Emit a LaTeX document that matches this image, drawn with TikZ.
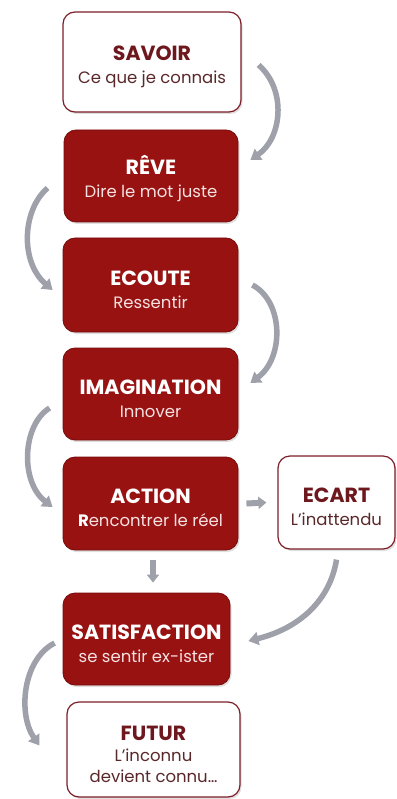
\documentclass[tikz,border=0pt]{standalone}
\usepackage{fontspec}
\setmainfont{Poppins}
\usetikzlibrary{arrows.meta,shadows}
\definecolor{boxred}{RGB}{152,18,18}
\definecolor{boxredline}{RGB}{120,12,12}
\definecolor{wline}{RGB}{125,30,40}
\definecolor{wtitle}{RGB}{110,24,30}
\definecolor{wsub}{RGB}{90,40,42}
\definecolor{rsub}{RGB}{245,225,225}
\definecolor{arrowgray}{RGB}{158,160,170}
\tikzset{
  basebox/.style={rectangle, rounded corners=12pt, align=center, inner sep=2pt,
    font=\fontsize{16.5}{23}\selectfont,
    drop shadow={opacity=0.25, shadow xshift=1.5pt, shadow yshift=-2pt}},
  redbox/.style={basebox, fill=boxred, draw=boxredline, line width=0.8pt, text=white},
  whitebox/.style={basebox, fill=white, draw=wline, line width=1.2pt},
  flow/.style={draw=arrowgray, line width=5.5pt, -{Triangle[width=13pt,length=10pt]}},
}
\newcommand{\rtitle}[1]{\rule{0pt}{24pt}{\bfseries\fontsize{20.5}{23}\selectfont #1}}
\newcommand{\rsubt}[1]{{\color{rsub}#1}}
\newcommand{\wtitl}[1]{\rule{0pt}{24pt}{\bfseries\fontsize{20.5}{23}\selectfont\color{wtitle}#1}}
\newcommand{\wsubt}[1]{{\color{wsub}#1}}
\begin{document}
\begin{tikzpicture}[x=1pt,y=-1pt]
\useasboundingbox (0,0) rectangle (396,799);
\node[whitebox, minimum width=178pt, minimum height=100pt] (savoir) at (152,62)
  {\wtitl{SAVOIR}\\\wsubt{Ce que je connais}};
\node[redbox, minimum width=174pt, minimum height=92pt] (reve) at (151,176)
  {\rtitle{RÊVE}\\\rsubt{Dire le mot juste}};
\node[redbox, minimum width=175pt, minimum height=94pt] (ecoute) at (150.5,285)
  {\rtitle{ECOUTE}\\\rsubt{Ressentir}};
\node[redbox, minimum width=175pt, minimum height=92pt] (imag) at (150.5,394)
  {\rtitle{IMAGINATION}\\\rsubt{Innover}};
\node[redbox, minimum width=175pt, minimum height=93pt] (action) at (150.5,503.5)
  {\rtitle{ACTION}\\\rsubt{{\color{white}\bfseries R}encontrer le réel}};
\node[whitebox, minimum width=117pt, minimum height=93pt] (ecart) at (336.5,502.5)
  {\wtitl{ECART}\\\wsubt{L’inattendu}};
\node[redbox, minimum width=167pt, minimum height=92pt] (satis) at (146.5,639)
  {\rtitle{SATISFACTION}\\\rsubt{se sentir ex-ister}};
\node[whitebox, minimum width=173pt, minimum height=95pt, font=\fontsize{16.5}{21}\selectfont] (futur) at (153.5,749.5)
  {\wtitl{FUTUR}\\\wsubt{L'inconnu}\\\wsubt{devient connu…}};
\coordinate (futurpt) at ([xshift=-27pt,yshift=4pt]futur.west);
% arrows
\draw[flow] ([xshift=17pt,yshift=-3pt]savoir.east) .. controls (287,90) and (282,138) .. ([xshift=12pt,yshift=16pt]reve.east);
\draw[flow] ([xshift=-16pt,yshift=-12pt]reve.west) .. controls (22,210) and (20,262) .. ([xshift=-10pt,yshift=-5pt]ecoute.west);
\draw[flow] ([xshift=14pt,yshift=0pt]ecoute.east) .. controls (284,302) and (284,358) .. ([xshift=12pt,yshift=11pt]imag.east);
\draw[flow] ([xshift=-13pt,yshift=-14pt]imag.west) .. controls (22,425) and (20,482) .. ([xshift=-10pt,yshift=-3.5pt]action.west);
\draw[flow, -{Triangle[width=12pt,length=8pt]}, line width=6pt] ([xshift=8pt]action.east) -- ([xshift=-11pt]ecart.west);
\draw[flow, -{Triangle[width=12pt,length=8pt]}, line width=6pt] ([xshift=2.5pt,yshift=-10pt]action.south) -- ([xshift=6.5pt,yshift=10pt]satis.north);
\draw[flow] ([yshift=-10pt]ecart.south) .. controls (330,600) and (300,628) .. ([xshift=18pt,yshift=-2pt]satis.east);
\draw[flow] ([xshift=-8pt,yshift=-4pt]satis.west) .. controls (22,660) and (18,715) .. (futurpt);
\end{tikzpicture}
\end{document}
